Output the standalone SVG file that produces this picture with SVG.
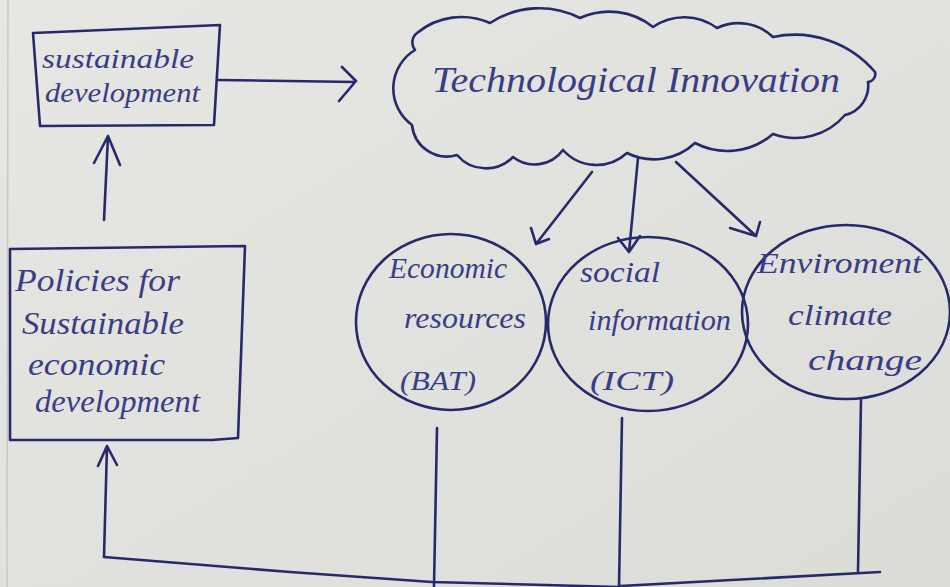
<svg xmlns="http://www.w3.org/2000/svg" width="950" height="587" viewBox="0 0 950 587">
<defs>
<linearGradient id="paper" x1="0" y1="0" x2="1" y2="1">
<stop offset="0" stop-color="#e6e6e2"/>
<stop offset="0.5" stop-color="#e1e2de"/>
<stop offset="1" stop-color="#dcdcd7"/>
</linearGradient>
<style>
.ink{fill:none;stroke:#262a6a;stroke-width:2.6;stroke-linecap:round;stroke-linejoin:round}
.t{font-family:"Liberation Serif","DejaVu Serif",serif;font-style:italic;fill:#3a3d86}
</style>
</defs>
<rect width="950" height="587" fill="url(#paper)"/>
<line x1="8" y1="0" x2="7" y2="587" stroke="#c8c8c4" stroke-width="1.5"/>

<g id="sustainable-development">
<path class="ink" d="M33,33 L220,25 L214,125 L40,126 L33,33"/>
<text class="t" x="42" y="68" font-size="27" textLength="152" lengthAdjust="spacingAndGlyphs">sustainable</text>
<text class="t" x="45" y="102" font-size="27" textLength="155" lengthAdjust="spacingAndGlyphs">development</text>
</g>

<g id="technological-innovation">
<path class="ink" d="M417,33 A70,70 0 0 1 490,23 A90,90 0 0 1 580,18 A70,70 0 0 1 653,27 A55,55 0 0 1 717,28 A50,50 0 0 1 773,37 A105,105 0 0 1 875,72 A8,8 0 0 1 868,82 A30,30 0 0 1 845,115 A65,65 0 0 1 773,134 A70,70 0 0 1 695,143 A60,60 0 0 1 627,153 A45,45 0 0 1 563,150 A35,35 0 0 1 513,157 A38,38 0 0 1 457,155 A35,35 0 0 1 412,125 A45,45 0 0 1 415,50 A12,12 0 0 1 417,33 Z"/>
<text class="t" x="432" y="92" font-size="35" textLength="408" lengthAdjust="spacingAndGlyphs">Technological Innovation</text>
</g>

<g id="policies">
<path class="ink" d="M10,249 L245,246 L238,438 L212,440 L10,440 L10,249"/>
<text class="t" x="15" y="291" font-size="31" textLength="165" lengthAdjust="spacingAndGlyphs">Policies for</text>
<text class="t" x="22" y="334" font-size="31" textLength="162" lengthAdjust="spacingAndGlyphs">Sustainable</text>
<text class="t" x="28" y="375" font-size="31" textLength="137" lengthAdjust="spacingAndGlyphs">economic</text>
<text class="t" x="35" y="412" font-size="31" textLength="165" lengthAdjust="spacingAndGlyphs">development</text>
</g>

<g id="economic-resources">
<ellipse class="ink" cx="451" cy="322" rx="95" ry="88"/>
<text class="t" x="389" y="278" font-size="29" textLength="118" lengthAdjust="spacingAndGlyphs">Economic</text>
<text class="t" x="404" y="328" font-size="29" textLength="122" lengthAdjust="spacingAndGlyphs">resources</text>
<text class="t" x="400" y="390" font-size="27" textLength="76" lengthAdjust="spacingAndGlyphs">(BAT)</text>
</g>

<g id="social-information">
<ellipse class="ink" cx="648" cy="324" rx="100" ry="87"/>
<text class="t" x="580" y="282" font-size="29" textLength="80" lengthAdjust="spacingAndGlyphs">social</text>
<text class="t" x="588" y="330" font-size="29" textLength="143" lengthAdjust="spacingAndGlyphs">information</text>
<text class="t" x="590" y="390" font-size="27" textLength="84" lengthAdjust="spacingAndGlyphs">(ICT)</text>
</g>

<g id="environment-climate">
<ellipse class="ink" cx="846" cy="312" rx="104" ry="87"/>
<text class="t" x="757" y="273" font-size="29" textLength="165" lengthAdjust="spacingAndGlyphs">Enviroment</text>
<text class="t" x="788" y="325" font-size="29" textLength="104" lengthAdjust="spacingAndGlyphs">climate</text>
<text class="t" x="808" y="370" font-size="29" textLength="114" lengthAdjust="spacingAndGlyphs">change</text>
</g>

<g id="connectors">
<path class="ink" d="M218,80 L355,82 M342,67 L356,81 L339,101"/>
<path class="ink" d="M104,220 L108,136 M94,163 L108,136 L120,165"/>
<path class="ink" d="M592,172 L536,244 M531,228 L536,244 L549,239"/>
<path class="ink" d="M638,158 L629,252 M618,238 L629,252 L640,236"/>
<path class="ink" d="M676,162 L756,236 M730,228 L756,236 L760,222"/>
<path class="ink" d="M437,428 L434,587"/>
<path class="ink" d="M622,418 L619,587"/>
<path class="ink" d="M861,400 L858,572"/>
<path class="ink" d="M104,557 L290,572 L432,582 L620,587 M620,586 L880,572"/>
<path class="ink" d="M104,557 L107,446 M98,466 L107,446 L117,465"/>
</g>
</svg>
